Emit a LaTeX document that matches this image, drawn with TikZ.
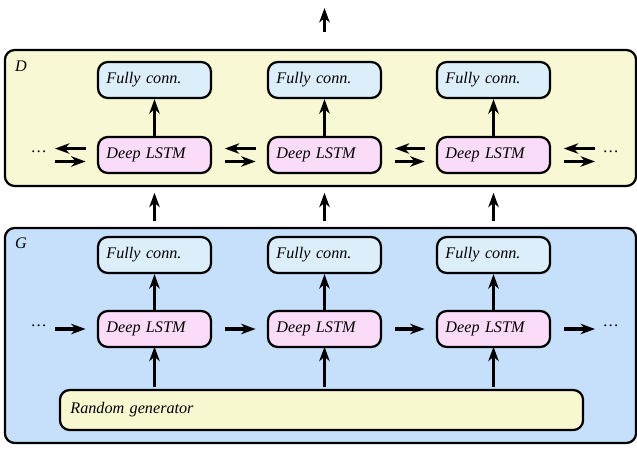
\documentclass[tikz,border=0pt]{standalone}
\usepackage{fontspec}
\setmainfont{Liberation Serif}
\usetikzlibrary{arrows.meta}
\definecolor{dback}{HTML}{F8F8D4}
\definecolor{gback}{HTML}{C6DFFB}
\definecolor{fcfill}{HTML}{DDEEFB}
\definecolor{lstmfill}{HTML}{FADCF8}
\definecolor{rndfill}{HTML}{F8F8D0}
\begin{document}
\begin{tikzpicture}
[
    x = 0.025cm, y = -0.025cm,
    net/.style = {draw, line width = 1.6pt, rounded corners = 7pt},
    lbl/.style = {font = \itshape\fontsize{11.5}{13}\selectfont},
    block/.style = {net, lbl, minimum width = 2.825cm, minimum height = 0.9cm, text width = 2.4cm, align = left},
    fcbox/.style = {block, fill = fcfill},
    lstmbox/.style = {block, fill = lstmfill},
    arr/.style = {line width = 2.2pt, -{Stealth[length = 3.6mm, width = 2.6mm, inset = 1.1mm]}}
]
\useasboundingbox (0,0) rectangle (637,450);

% containers
\node[net, fill = dback, minimum width = 15.775cm, minimum height = 3.4cm] (D) at (320.5,118) {};
\node[lbl] at (21,66) {D};
\node[net, fill = gback, minimum width = 15.775cm, minimum height = 5.375cm] (G) at (320.5,335.5) {};
\node[lbl] at (21,243) {G};

% discriminator
\node[fcbox] (dfc1) at (154.5,80) {Fully conn.};
\node[fcbox] (dfc2) at (324.5,80) {Fully conn.};
\node[fcbox] (dfc3) at (493.5,80) {Fully conn.};
\node[lstmbox] (dl1) at (154.5,155) {Deep LSTM};
\node[lstmbox] (dl2) at (324.5,155) {Deep LSTM};
\node[lstmbox] (dl3) at (493.5,155) {Deep LSTM};
\node[lbl] at (39,152) {\dots};
\node[lbl] at (611,152) {\dots};
\coordinate (din) at (55,155);
\coordinate (dout) at (595,155);

% generator
\node[fcbox] (gfc1) at (154.5,255) {Fully conn.};
\node[fcbox] (gfc2) at (324.5,255) {Fully conn.};
\node[fcbox] (gfc3) at (493.5,255) {Fully conn.};
\node[lstmbox] (gl1) at (154.5,329) {Deep LSTM};
\node[lstmbox] (gl2) at (324.5,329) {Deep LSTM};
\node[lstmbox] (gl3) at (493.5,329) {Deep LSTM};
\node[lbl] at (39,326) {\dots};
\node[lbl] at (611,326) {\dots};
\coordinate (gin) at (55,329);
\coordinate (gout) at (595,329);
\node[net, lbl, fill = rndfill, minimum width = 13.075cm, minimum height = 1cm, text width = 12.55cm, align = left] (rnd) at (321.5,410) {Random generator};

\coordinate (out) at (324.5,8);

% upward links
\foreach \i in {1,2,3} {
    \draw[arr] (dl\i) -- (dfc\i);
    \draw[arr] (gl\i) -- (gfc\i);
    \draw[arr] (rnd.north -| gl\i) ++(0,-2) -- ([yshift=1pt]gl\i.south);
    \draw[arr] ([yshift=4pt]G.north -| gfc\i) -- ([yshift=-4pt]D.south -| dl\i);
}
\draw[arr] ([yshift=12pt]D.north -| dfc2) -- (out);

% recurrent links, D
\draw[arr] ([xshift=-8,yshift=4.6pt]dl1.west) -- ([yshift=4.6pt]din);
\draw[arr] ([yshift=-4.6pt]din) -- ([xshift=-8,yshift=-4.6pt]dl1.west);
\draw[arr] ([xshift=-8,yshift=4.6pt]dl2.west) -- ([xshift=9,yshift=4.6pt]dl1.east);
\draw[arr] ([xshift=9,yshift=-4.6pt]dl1.east) -- ([xshift=-8,yshift=-4.6pt]dl2.west);
\draw[arr] ([xshift=-8,yshift=4.6pt]dl3.west) -- ([xshift=9,yshift=4.6pt]dl2.east);
\draw[arr] ([xshift=9,yshift=-4.6pt]dl2.east) -- ([xshift=-8,yshift=-4.6pt]dl3.west);
\draw[arr] ([yshift=4.6pt]dout) -- ([xshift=9,yshift=4.6pt]dl3.east);
\draw[arr] ([xshift=9,yshift=-4.6pt]dl3.east) -- ([yshift=-4.6pt]dout);

% recurrent links, G
\draw[arr] (gin) -- ([xshift=-8]gl1.west);
\draw[arr] ([xshift=9]gl1.east) -- ([xshift=-8]gl2.west);
\draw[arr] ([xshift=9]gl2.east) -- ([xshift=-8]gl3.west);
\draw[arr] ([xshift=9]gl3.east) -- (gout);
\end{tikzpicture}
\end{document}
